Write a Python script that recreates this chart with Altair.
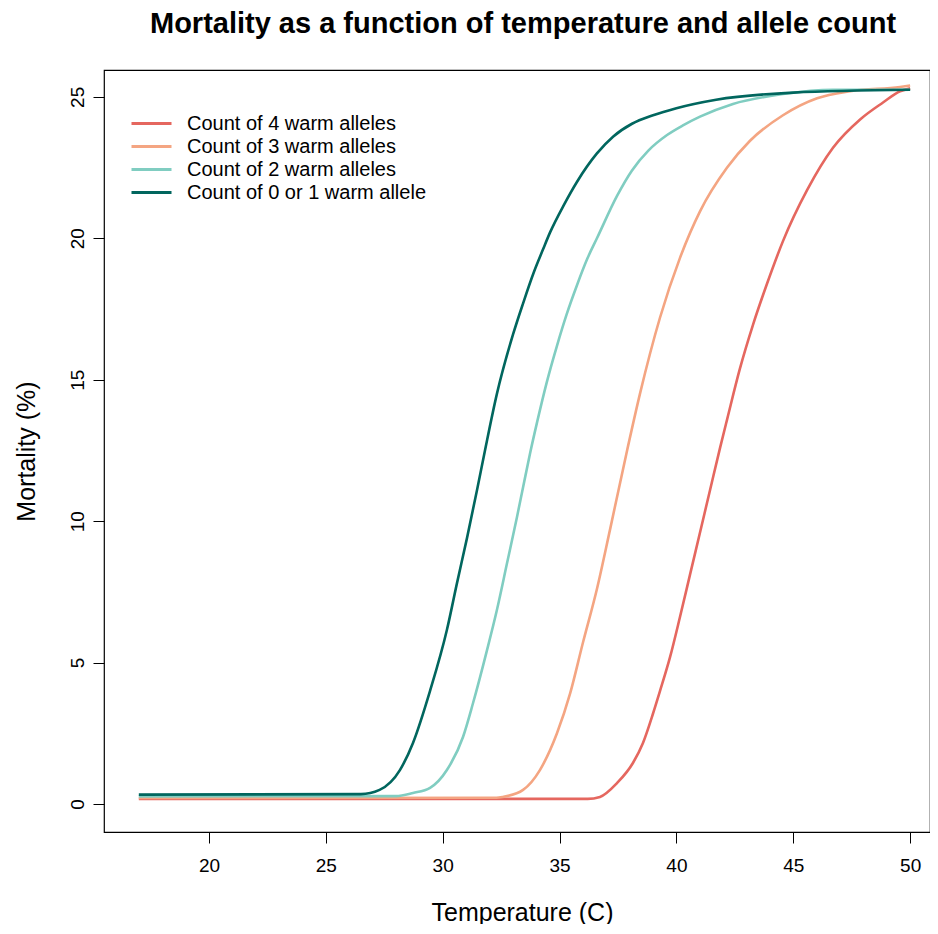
import altair as alt
import pandas as pd

# Temperature (C) / Mortality (%)
labels = ["Count of 4 warm alleles", "Count of 3 warm alleles",
          "Count of 2 warm alleles", "Count of 0 or 1 warm allele"]
colors = ["#E5675F", "#F4A582", "#80CDC1", "#01665E"]

t4 = [17, 36.2, 36.73, 37.46, 38.14, 38.57, 39.0, 39.3, 39.73, 40.15, 40.58, 41.01,
      41.44, 41.87, 42.17, 42.72, 43.28, 43.88, 44.56, 45.59, 46.7, 47.86, 48.84, 49.57, 50]
m4 = [0.18, 0.18, 0.25, 0.74, 1.45, 2.16, 3.2, 4.0, 5.2, 6.6, 8.1, 9.6,
      11.1, 12.6, 13.6, 15.4, 16.95, 18.4, 19.9, 21.7, 23.2, 24.2, 24.8, 25.2, 25.3]

t3 = [17, 32.3, 32.58, 33.44, 34.16, 34.89, 35.45, 36.0, 36.6, 37.16, 37.89, 38.44,
      39.3, 40.15, 41.01, 42.17, 43.15, 44.56, 46.02, 47.43, 49.57, 50]
m3 = [0.21, 0.22, 0.25, 0.5, 1.2, 2.5, 3.9, 5.7, 7.6, 9.7, 12.5, 14.5,
      17.2, 19.3, 20.95, 22.5, 23.45, 24.35, 24.95, 25.2, 25.35, 25.4]

t2 = [17, 28.0, 28.73, 29.46, 30.18, 30.87, 31.3, 31.9, 32.32, 32.75, 33.18, 33.44,
      33.74, 34.04, 34.45, 34.89, 35.3, 35.75, 36.2, 36.6, 37.46, 38.1, 38.8, 39.6,
      40.3, 41.01, 42.42, 44.56, 46.7, 50]
m2 = [0.27, 0.28, 0.39, 0.57, 1.2, 2.37, 3.57, 5.45, 6.86, 8.5, 10.15, 11.2,
      12.4, 13.5, 14.9, 16.2, 17.3, 18.35, 19.3, 20.0, 21.5, 22.4, 23.1, 23.65,
      24.0, 24.3, 24.75, 25.1, 25.25, 25.25]

t01 = [17, 26.5, 27.3, 28.17, 28.73, 29.46, 30.18, 30.61, 31.04, 31.47, 31.81, 32.32,
       33.01, 33.44, 33.9, 34.29, 34.59, 35.2, 35.75, 36.6, 37.3, 38.1, 39.0, 40.0,
       41.7, 45.0, 50]
m01 = [0.33, 0.35, 0.5, 1.2, 2.16, 4.0, 6.15, 7.8, 9.4, 11.1, 12.5, 14.5,
       16.6, 17.7, 18.8, 19.6, 20.2, 21.2, 22.0, 23.0, 23.6, 24.05, 24.35, 24.6,
       24.9, 25.15, 25.25]

x_ticks = [20, 25, 30, 35, 40, 45, 50]
y_ticks = [0, 5, 10, 15, 20, 25]

rows = []
for lab, ts, ms in zip(labels, [t4, t3, t2, t01], [m4, m3, m2, m01]):
    for i, (t, m) in enumerate(zip(ts, ms)):
        rows.append({"series": lab, "temp": t, "mort": m, "order": i})
df = pd.DataFrame(rows)

FONT = "Liberation Sans"

chart = alt.Chart(df).mark_line(strokeWidth=2.6, interpolate="monotone").encode(
    x=alt.X("temp:Q",
            scale=alt.Scale(domain=[15.51, 50.85], nice=False, zero=False),
            axis=alt.Axis(values=x_ticks, title="Temperature (C)", labelFontSize=19,
                          labelPadding=13, titleFontSize=25, titleFontWeight="normal",
                          titleBaseline="alphabetic", titleY=88, titleX=418)),
    y=alt.Y("mort:Q",
            scale=alt.Scale(domain=[-0.99, 25.95], nice=False, zero=False),
            axis=alt.Axis(values=y_ticks, title="Mortality (%)", labelFontSize=19,
                          labelAngle=270, labelAlign="center", labelBaseline="bottom",
                          labelPadding=6, titleFontSize=25, titleFontWeight="normal",
                          titleBaseline="alphabetic", titleX=-70)),
    color=alt.Color("series:N",
                    scale=alt.Scale(domain=labels, range=colors),
                    legend=alt.Legend(title=None, orient="none", legendX=26, legendY=42,
                                      symbolType="stroke", symbolSize=1600,
                                      symbolStrokeWidth=3, labelFontSize=20,
                                      labelOffset=14, rowPadding=0, padding=0,
                                      clipHeight=23, labelLimit=500,
                                      labelFont=FONT, labelColor="black")),
    order=alt.Order("order:Q"),
).properties(
    width=826,
    height=762,
    title=alt.TitleParams("Mortality as a function of temperature and allele count",
                          fontSize=29, fontWeight="bold", font=FONT, anchor="middle",
                          baseline="alphabetic", offset=8, dx=6, color="black"),
    autosize=alt.AutoSizeParams(type="none"),
    padding={"left": 96, "top": 62, "right": 0, "bottom": 92},
).configure_view(
    stroke="black", strokeWidth=1.2
).configure_axis(
    domain=False, grid=False, ticks=True, tickColor="black", tickSize=11, tickWidth=1,
    labelFont=FONT, titleFont=FONT, labelColor="black", titleColor="black"
)

chart.save("out.html", embed_options={"renderer": "svg", "actions": False})
